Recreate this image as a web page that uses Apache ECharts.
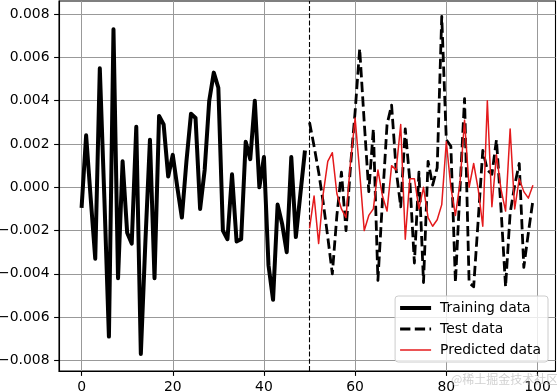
<!DOCTYPE html>
<html><head><meta charset="utf-8">
<script src="https://cdn.jsdelivr.net/npm/echarts@6/dist/echarts.min.js"></script>
<style>html,body{margin:0;padding:0;background:#fff}#c{width:557px;height:391px}</style>
</head><body><div id="c"></div>
<script>
// ---- data ----
const trainX = [0,1,2,3,4,5,6,7,8,9,10,11,12,13,14,15,16,17,18,19,20,21,22,23,24,25,26,27,28,29,30,31,32,33,34,35,36,37,38,39,40,41,42,43,44,45,46,47,48,49];
const trainY = [-0.00095,0.0024,-0.0005,-0.0033,0.0055,-0.0005,-0.0069,0.0073,-0.0042,0.0012,
                -0.0021,-0.0026,0.0028,-0.0077,-0.0025,0.0022,-0.0042,0.0033,0.0029,0.0005,
                0.0015,0.0000,-0.0014,0.0012,0.0034,0.0032,-0.0010,0.0008,0.0040,0.0053,
                0.0046,-0.0020,-0.0024,0.0006,-0.0025,-0.0024,0.0021,0.0013,0.0040,0.0000,
                0.0014,-0.0036,-0.0052,-0.0008,-0.0017,-0.0030,0.0014,-0.0023,-0.0003,0.0017];
const testX = [50,51,52,53,54,55,56,57,58,59,60,61,62,63,64,65,66,67,68,69,70,71,72,73,74,75,76,77,78,79,80,81,82,83,84,85,86,87,88,89,90,91,92,93,94,95,96,97,98,99];
const testY = [0.0030,0.0019,0.0007,-0.0007,-0.0023,-0.0040,-0.0013,0.0007,-0.0020,0.0010,
               0.0035,0.0064,0.0030,-0.0002,0.0027,-0.0043,-0.0006,0.0029,0.0038,0.0008,
               -0.0009,0.0027,0.0003,-0.0035,0.0007,-0.0044,0.0012,0.0001,0.0009,0.0079,
               0.0022,0.0019,-0.0044,-0.0001,0.0041,-0.0044,-0.0046,-0.0015,0.0017,0.0008,
               0.0006,0.0022,-0.0010,-0.0046,-0.0012,0.0001,0.0011,-0.0037,-0.0021,-0.0006];
const predY = [-0.0019,-0.0004,-0.0026,-0.0003,0.0012,0.0016,-0.0003,-0.0010,-0.0014,0.0012,
               0.0032,0.0007,-0.0020,-0.0013,-0.0010,0.0008,-0.0004,-0.0011,0.0010,0.0008,
               0.0029,-0.0024,0.0004,0.0004,-0.0010,0.0000,-0.0014,-0.0018,-0.0015,-0.0008,
               0.0021,0.0000,-0.0013,0.0002,0.0031,0.0000,0.0011,-0.0001,-0.0018,0.0040,
               -0.0009,0.0015,-0.0001,-0.0011,0.0027,-0.0010,0.0004,-0.0002,-0.0005,0.0001];
const xTicks = [0,20,40,60,80,100];
const yTicks = [-0.008,-0.006,-0.004,-0.002,0,0.002,0.004,0.006,0.008];
const splitX = 50;
const names = ['Training data','Test data','Predicted data'];
const watermark = '@稀土掘金技术社区';

const zip = (xs, ys) => xs.map((x, i) => [x, ys[i]]);
const font = 'DejaVu Sans';
const RED = '#e41a1c';
const hideSym = {opacity: 0, borderWidth: 0, color: 'rgba(0,0,0,0)'};
const chart = echarts.init(document.getElementById('c'), null, {renderer: 'canvas'});
chart.setOption({
  animation: false,
  grid: {left: 59, right: 1.5, top: 1, bottom: 20, containLabel: false, outerBoundsMode: 'none',
         show: true, borderColor: '#000', borderWidth: 1.1, backgroundColor: 'transparent'},
  xAxis: {
    type: 'value', min: -4.95, max: 103.95,
    axisLine: {show: true, onZero: false, lineStyle: {color: '#000', width: 1.1}},
    axisTick: {show: true, customValues: xTicks, length: 4.9, lineStyle: {color: '#000', width: 1.1}},
    axisLabel: {customValues: xTicks, margin: 9, color: '#000', fontFamily: font, fontSize: 13.9},
    splitLine: {show: true, lineStyle: {color: '#999', width: 1}}
  },
  yAxis: {
    type: 'value', min: -0.00849, max: 0.00861,
    axisLine: {show: true, onZero: false, lineStyle: {color: '#000', width: 1.1}},
    axisTick: {show: true, customValues: yTicks, length: 4.9, lineStyle: {color: '#000', width: 1.1}},
    axisLabel: {customValues: yTicks, margin: 9.5, color: '#000', fontFamily: font, fontSize: 13.9,
      formatter: v => v.toFixed(3).replace('-', '\u2212')},
    splitLine: {show: true, lineStyle: {color: '#999', width: 1}}
  },
  legend: {
    orient: 'vertical', right: 9, top: 296,
    itemWidth: 31, itemHeight: 14, itemGap: 7,
    padding: [5, 7, 5, 3],
    borderColor: '#ccc', borderWidth: 1, borderRadius: 3,
    backgroundColor: 'rgba(255,255,255,0.8)',
    textStyle: {fontFamily: font, fontSize: 13.9, color: '#000', padding: [0, 0, 0, 4]},
    data: [
      {name: names[0], itemStyle: hideSym, lineStyle: {width: 4, color: '#000', type: 'solid'}},
      {name: names[1], itemStyle: hideSym, lineStyle: {width: 2.8, color: '#000', type: [10.3, 4.4]}},
      {name: names[2], itemStyle: hideSym, lineStyle: {width: 1.5, color: RED, type: 'solid'}}
    ]
  },
  series: [
    {name: names[0], type: 'line', data: zip(trainX, trainY), symbol: 'none', z: 3,
     itemStyle: {color: '#000'}, lineStyle: {color: '#000', width: 4, join: 'round'}},
    {name: names[1], type: 'line', data: zip(testX, testY), symbol: 'none', z: 4,
     itemStyle: {color: '#000'}, lineStyle: {color: '#000', width: 2.8, type: [10.3, 4.4], join: 'round'},
     markLine: {symbol: 'none', silent: true, label: {show: false},
       lineStyle: {color: '#000', width: 1.1, type: [5, 2.2]},
       data: [{xAxis: splitX}]}},
    {name: names[2], type: 'line', data: zip(testX, predY), symbol: 'none', z: 5,
     itemStyle: {color: RED}, lineStyle: {color: RED, width: 1.5, join: 'round'}}
  ],
  graphic: [{type: 'text', left: 451, top: 373, z: 100,
    style: {text: watermark, fill: 'rgba(170,170,170,0.55)', font: '12px "Noto Sans CJK SC"'}}]
});
</script></body></html>
